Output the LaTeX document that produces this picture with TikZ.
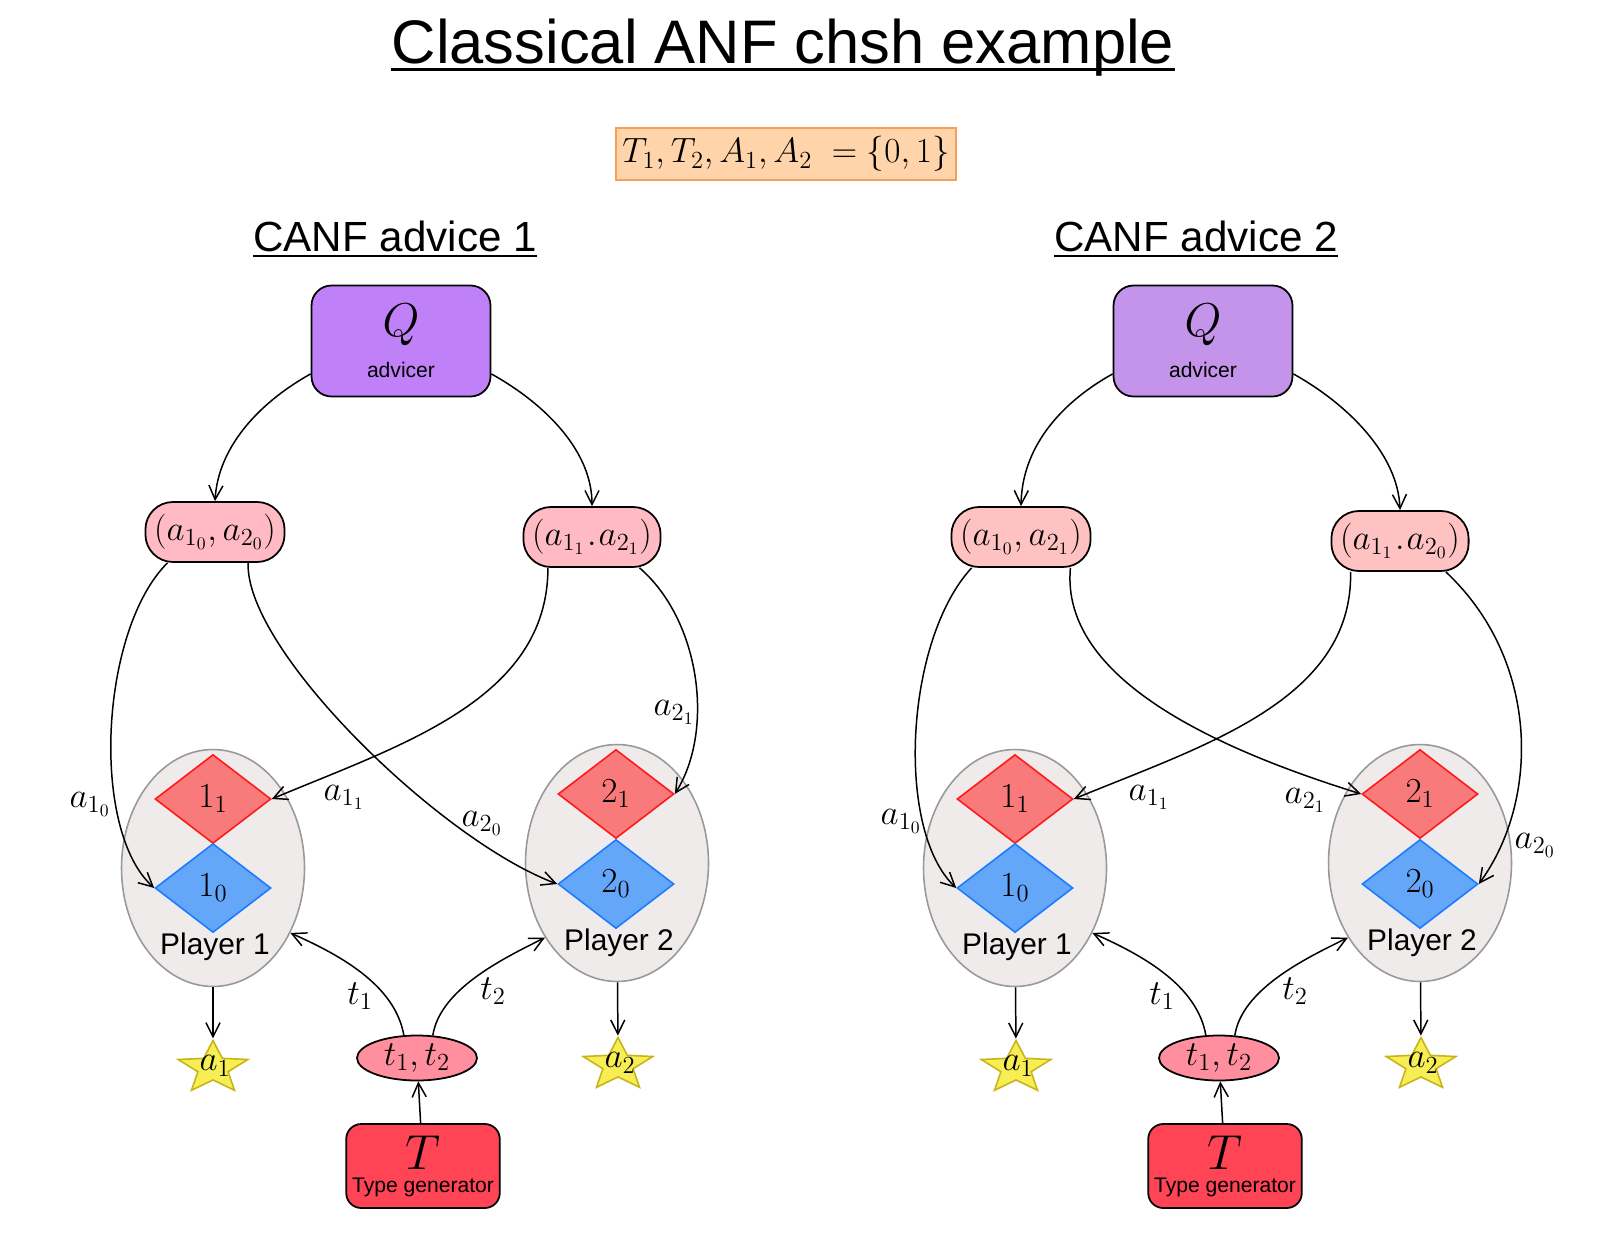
\RequirePackage{fix-cm}
\documentclass[tikz,border=0pt]{standalone}
\usepackage{fontspec}
\setsansfont{Liberation Sans}
\usetikzlibrary{arrows.meta, shapes.geometric, positioning}

\definecolor{advA}{HTML}{C080F8}
\definecolor{advB}{HTML}{C394EA}
\definecolor{pairA}{HTML}{FFBAC3}
\definecolor{pairB}{HTML}{FFC2C2}
\definecolor{plgray}{HTML}{F0EBEB}
\definecolor{plline}{HTML}{999999}
\definecolor{kitered}{HTML}{F87A7A}
\definecolor{kiteredline}{HTML}{FF1A1A}
\definecolor{kiteblue}{HTML}{64A6F8}
\definecolor{kiteblueline}{HTML}{1A7CFF}
\definecolor{starfill}{HTML}{F7EE55}
\definecolor{starline}{HTML}{C9B418}
\definecolor{typefill}{HTML}{FF8E9E}
\definecolor{genfill}{HTML}{FF4455}
\definecolor{fmlfill}{HTML}{FFD4AA}
\definecolor{fmlline}{HTML}{F5A05A}

\begin{document}
\begin{tikzpicture}[x=0.02cm, y=-0.02cm, >={Straight Barb[length=8pt,width=8pt]},
    advbox/.style={draw, line width=1pt, rounded corners=0.4cm, minimum width=3.58cm, minimum height=2.22cm, align=center, font=\sffamily\fontsize{12}{14}\selectfont},
    pairbox/.style={draw, line width=1pt, rounded corners=0.55cm, minimum height=1.2cm, inner xsep=5pt, font=\fontsize{20}{24}\selectfont},
    player/.style={ellipse, draw=plline, line width=0.9pt, fill=plgray, minimum width=3.66cm, minimum height=4.74cm},
    kite/.style={diamond, line width=0.9pt, minimum width=2.32cm, minimum height=1.78cm, inner sep=0pt, font=\fontsize{20}{24}\selectfont},
    redkite/.style={kite, draw=kiteredline, fill=kitered},
    bluekite/.style={kite, draw=kiteblueline, fill=kiteblue},
    prize/.style={star, star points=5, star point ratio=2.3, minimum size=1.1cm, inner sep=0pt, draw=starline, fill=starfill, line width=0.9pt, xscale=1.33, transform shape},
    typeell/.style={ellipse, draw, line width=1pt, fill=typefill, minimum width=2.4cm, minimum height=0.9cm, inner sep=0pt, font=\fontsize{20}{24}\selectfont},
    genbox/.style={draw, line width=1pt, fill=genfill, rounded corners=0.3cm, minimum width=2.98cm, minimum height=1.68cm, align=center, font=\sffamily\fontsize{12}{14}\selectfont},
    mathlbl/.style={font=\fontsize{20}{24}\selectfont},
    plname/.style={font=\sffamily\fontsize{17}{20}\selectfont},
    wire/.style={->, line width=0.85pt}]

    \path[fill=white, use as bounding box] (0,0) rectangle (1602,1254);

    % Headings
    \node[font=\sffamily\fontsize{35}{40}\selectfont, inner sep=0pt, anchor=base] (title) at (783,63) {Classical ANF chsh example};
    \draw[line width=1.7pt] ([yshift=-3.7pt]title.base west) -- ([yshift=-3.7pt]title.base east);
    \node[draw=fmlline, fill=fmlfill, line width=1pt, minimum width=6.8cm, minimum height=1.04cm, font=\fontsize{20}{24}\selectfont] (sets) at (786,154) {$T_1, T_2, A_1, A_2\; = \{0,1\}$};
    \node[font=\sffamily\fontsize{24}{28}\selectfont, inner sep=0pt, anchor=base] (headA) at (395,251) {CANF advice 1};
    \draw[line width=1.2pt] ([yshift=-2.8pt]headA.base west) -- ([yshift=-2.8pt]headA.base east);
    \node[font=\sffamily\fontsize{24}{28}\selectfont, inner sep=0pt, anchor=base] (headB) at (1196,251) {CANF advice 2};
    \draw[line width=1.2pt] ([yshift=-2.8pt]headB.base west) -- ([yshift=-2.8pt]headB.base east);

    % CANF advice 1
    \node[advbox, fill=advA] (qA) at (401,341) {{\fontsize{27}{28}\selectfont$Q$}\\[9pt]advicer};
    \node[pairbox, fill=pairA] (pA1) at (215,532) {$(a_{1_0}, a_{2_0})$};
    \node[pairbox, fill=pairA] (pA2) at (592,537) {$(a_{1_1}\mkern1mu.\mkern1mu a_{2_1})$};

    \node[player] (pl1A) at (213,868) {};
    \node[player] (pl2A) at (617,863) {};
    \node[redkite] (d11A) at (213,799) {$1_1$};
    \node[bluekite] (d10A) at (213,888) {$1_0$};
    \node[redkite] (d21A) at (616,794) {$2_1$};
    \node[bluekite] (d20A) at (616,884) {$2_0$};
    \node[plname] (pn1A) at (215,947) {Player 1};
    \node[plname] (pn2A) at (619,943) {Player 2};

    \node[prize] (sA1) at (213,1068) {};
    \node[mathlbl] (sA1t) at (215,1066) {$a_1$};
    \node[prize] (sA2) at (618,1065) {};
    \node[mathlbl] (sA2t) at (620,1063) {$a_2$};

    \node[typeell] (tA) at (417,1058) {$t_1, t_2$};
    \node[genbox] (tgA) at (423,1166) {{\fontsize{28}{28}\selectfont$T$}\\[-1pt]Type generator};

    \draw[wire] (qA.200) .. controls (255,405) and (218,450) .. (pA1.north);
    \draw[wire] (qA.340) .. controls (547,405) and (592,452) .. (pA2.north);
    \draw[wire] (pA1.213) .. controls (100,630) and (90,830) .. (d10A.west);
    \draw[wire] (pA1.317) .. controls (245,650) and (440,840) .. (d20A.west);
    \draw[wire] (pA2.215) .. controls (548,700) and (400,745) .. (d11A.east);
    \draw[wire] (pA2.327) .. controls (700,620) and (715,730) .. (d21A.east);
    \draw[wire] (pl1A) -- (sA1);
    \draw[wire] (pl2A) -- (sA2);
    \draw[wire] (tA.120) .. controls (395,985) and (340,955) .. (pl1A.320);
    \draw[wire] (tA.55) .. controls (440,990) and (500,960) .. (pl2A.226);
    \draw[wire] (tgA) -- (tA);

    \node[mathlbl] (lA10) at (90,804) {$a_{1_0}$};
    \node[mathlbl] (lA20) at (482,823) {$a_{2_0}$};
    \node[mathlbl] (lA11) at (344,797) {$a_{1_1}$};
    \node[mathlbl] (lA21) at (674,712) {$a_{2_1}$};
    \node[mathlbl] (lAt1) at (360,996) {$t_1$};
    \node[mathlbl] (lAt2) at (493,991) {$t_2$};

    % CANF advice 2
    \node[advbox, fill=advB] (qB) at (1203,341) {{\fontsize{27}{28}\selectfont$Q$}\\[9pt]advicer};
    \node[pairbox, fill=pairB] (pB1) at (1021,537) {$(a_{1_0}, a_{2_1})$};
    \node[pairbox, fill=pairB] (pB2) at (1400,541) {$(a_{1_1}\mkern1mu.\mkern1mu a_{2_0})$};

    \node[player] (pl1B) at (1015,868) {};
    \node[player] (pl2B) at (1420,863) {};
    \node[redkite] (d11B) at (1015,799) {$1_1$};
    \node[bluekite] (d10B) at (1015,888) {$1_0$};
    \node[redkite] (d21B) at (1420,794) {$2_1$};
    \node[bluekite] (d20B) at (1420,884) {$2_0$};
    \node[plname] (pn1B) at (1017,947) {Player 1};
    \node[plname] (pn2B) at (1422,943) {Player 2};

    \node[prize] (sB1) at (1016,1068) {};
    \node[mathlbl] (sB1t) at (1018,1066) {$a_1$};
    \node[prize] (sB2) at (1421,1065) {};
    \node[mathlbl] (sB2t) at (1423,1063) {$a_2$};

    \node[typeell] (tB) at (1219,1058) {$t_1, t_2$};
    \node[genbox] (tgB) at (1225,1166) {{\fontsize{28}{28}\selectfont$T$}\\[-1pt]Type generator};

    \draw[wire] (qB.200) .. controls (1057,405) and (1022,450) .. (pB1.north);
    \draw[wire] (qB.340) .. controls (1349,405) and (1398,455) .. (pB2.north);
    \draw[wire] (pB1.212) .. controls (905,640) and (895,830) .. (d10B.west);
    \draw[wire] (pB1.328) .. controls (1060,680) and (1220,750) .. (d21B.west);
    \draw[wire] (pB2.212) .. controls (1353,700) and (1205,745) .. (d11B.east);
    \draw[wire] (pB2.326) .. controls (1540,660) and (1540,800) .. (d20B.east);
    \draw[wire] (pl1B) -- (sB1);
    \draw[wire] (pl2B) -- (sB2);
    \draw[wire] (tB.120) .. controls (1197,985) and (1142,955) .. (pl1B.320);
    \draw[wire] (tB.55) .. controls (1242,990) and (1302,960) .. (pl2B.226);
    \draw[wire] (tgB) -- (tB);

    \node[mathlbl] (lB10) at (901,821) {$a_{1_0}$};
    \node[mathlbl] (lB21) at (1305,800) {$a_{2_1}$};
    \node[mathlbl] (lB11) at (1149,797) {$a_{1_1}$};
    \node[mathlbl] (lB20) at (1535,845) {$a_{2_0}$};
    \node[mathlbl] (lBt1) at (1162,996) {$t_1$};
    \node[mathlbl] (lBt2) at (1295,991) {$t_2$};
\end{tikzpicture}
\end{document}
